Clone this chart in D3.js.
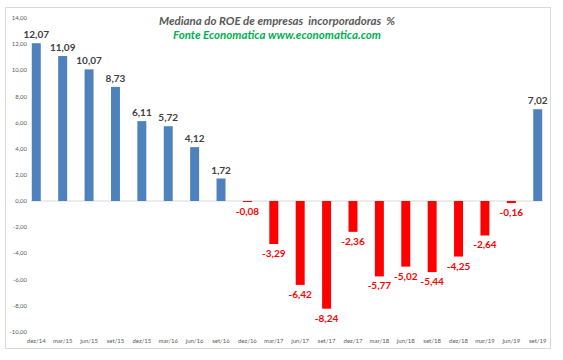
<!DOCTYPE html>
<html><head><meta charset="utf-8">
<script src="https://cdn.jsdelivr.net/npm/d3@7"></script>
<style>body{margin:0;background:#fff;} svg{display:block;}</style>
</head><body>
<svg id="c" width="563" height="360"></svg>
<script>
const categories = ["dez/14","mar/15","jun/15","set/15","dez/15","mar/16","jun/16","set/16","dez/16","mar/17","jun/17","set/17","dez/17","mar/18","jun/18","set/18","dez/18","mar/19","jun/19","set/19"];
const values = [12.07,11.09,10.07,8.73,6.11,5.72,4.12,1.72,-0.08,-3.29,-6.42,-8.24,-2.36,-5.77,-5.02,-5.44,-4.25,-2.64,-0.16,7.02];
const yTicks = [14,12,10,8,6,4,2,0,-2,-4,-6,-8,-10];
const title1 = "Mediana do ROE de empresas  incorporadoras  %";
const title2 = "Fonte Economatica www.economatica.com";

const svg = d3.select("#c");
const font = "Lato, 'Open Sans', sans-serif";
const fmt = v => v.toFixed(2).replace(".", ",");

svg.append("rect").attr("x",5.5).attr("y",7.5).attr("width",545).attr("height",341)
  .attr("fill","#fff").attr("stroke","#d9d9d9");

const x = d3.scaleBand().domain(categories).range([31, 543]).paddingInner(0.66).paddingOuter(0.03);
const y = d3.scaleLinear().domain([-10, 14]).range([331.7, 18]);

// y tick labels
svg.append("g").selectAll("text").data(yTicks).join("text")
  .attr("x", 27).attr("y", d => y(d)).attr("dy","0.35em")
  .attr("text-anchor","end").attr("font-family",font).attr("font-size",6)
  .attr("fill","#595959").text(d => fmt(d));

// zero line
svg.append("line").attr("x1",31).attr("x2",543).attr("y1",y(0)).attr("y2",y(0))
  .attr("stroke","#d9d9d9").attr("stroke-width",1);

// bars
svg.append("g").selectAll("rect").data(values).join("rect")
  .attr("x",(d,i)=>x(categories[i])).attr("width",x.bandwidth())
  .attr("y",d=>y(Math.max(0,d))).attr("height",d=>Math.abs(y(d)-y(0)))
  .attr("fill",d=>d>=0?"#4f81bd":"#ff0000");

// data labels
svg.append("g").selectAll("text").data(values).join("text")
  .attr("x",(d,i)=>x(categories[i])+x.bandwidth()/2)
  .attr("y",d=> d>=0 ? y(d)-5 : y(d)+13)
  .attr("text-anchor","middle").attr("font-family",font).attr("font-weight","bold")
  .attr("font-size",10).attr("fill",d=>d>=0?"#404040":"#ff0000")
  .text(d=>fmt(d));

// x labels
svg.append("g").selectAll("text").data(categories).join("text")
  .attr("x",d=>x(d)+x.bandwidth()/2).attr("y",343)
  .attr("text-anchor","middle").attr("font-family",font).attr("font-size",6)
  .attr("fill","#595959").text(d=>d);

// titles
svg.append("text").attr("x",277).attr("y",25).attr("text-anchor","middle")
  .attr("font-family",font).attr("font-style","italic").attr("font-weight","bold")
  .attr("font-size",11.5).attr("fill","#595959").attr("xml:space","preserve").text(title1);
svg.append("text").attr("x",277).attr("y",39).attr("text-anchor","middle")
  .attr("font-family",font).attr("font-style","italic").attr("font-weight","bold")
  .attr("font-size",11.5).attr("fill","#00b050").text(title2);
</script>
</body></html>
